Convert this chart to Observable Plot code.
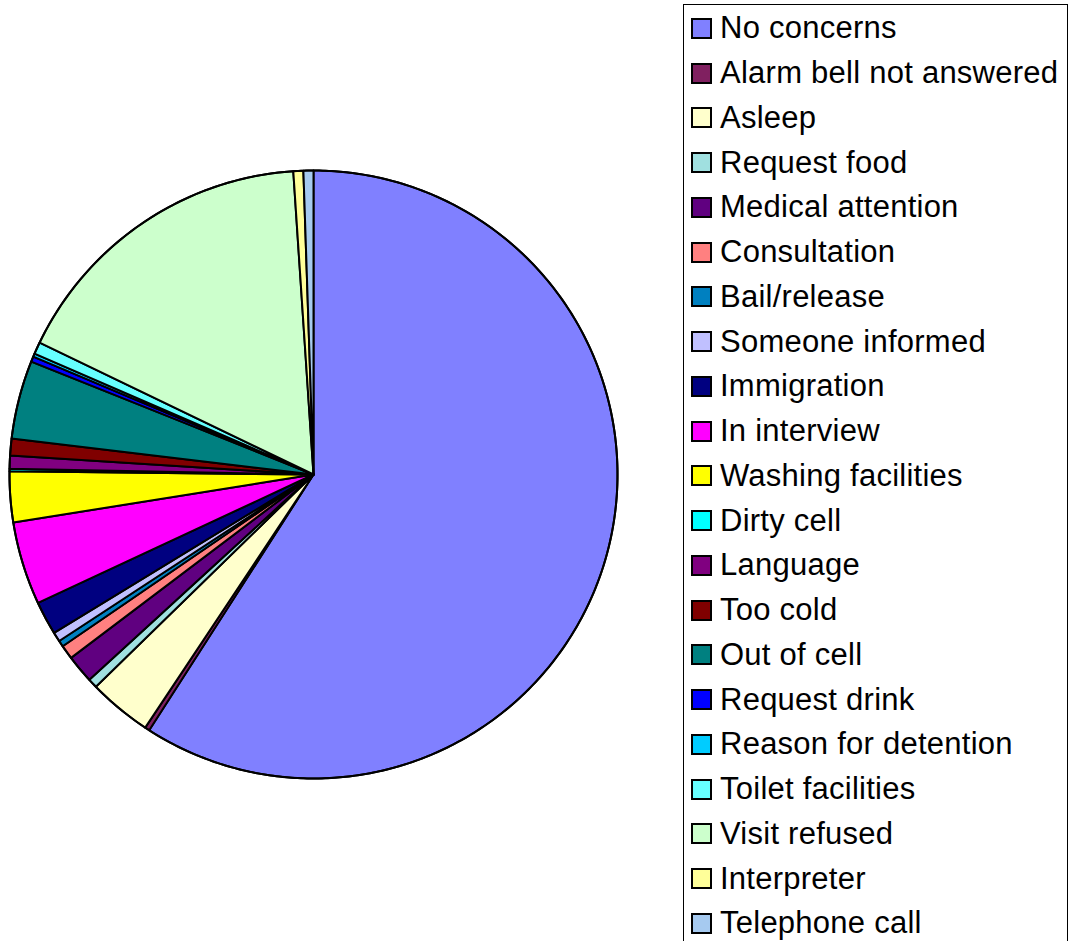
<!DOCTYPE html>
<html>
<head>
<meta charset="utf-8">
<script src="https://cdn.jsdelivr.net/npm/d3@7"></script>
<script src="https://cdn.jsdelivr.net/npm/@observablehq/plot@0.6"></script>
<style>
  html, body { margin: 0; padding: 0; background: #fff; overflow: hidden; }
  #wrap { position: relative; width: 1068px; height: 941px; }
  #pie { position: absolute; left: 0; top: 0; }
  #legend { position: absolute; left: 683px; top: 4px; width: 385px; height: 960px;
            border: 1px solid #000; box-sizing: border-box; font-family: "Liberation Sans", Arial, sans-serif; }
  .item { position: absolute; left: 7px; height: 30px; display: flex; align-items: center; white-space: nowrap; }
  .sw { width: 17px; height: 17px; border: 2px solid #000; margin-right: 8px; flex: none; }
  .lab { font-size: 31px; color: #000; line-height: 30px; letter-spacing: 0.25px; }
</style>
</head>
<body>
<div id="wrap"><div id="pie"></div><div id="legend"></div></div>
<script>
const categories = ["No concerns","Alarm bell not answered","Asleep","Request food","Medical attention",
  "Consultation","Bail/release","Someone informed","Immigration","In interview","Washing facilities",
  "Dirty cell","Language","Too cold","Out of cell","Request drink","Reason for detention",
  "Toilet facilities","Visit refused","Interpreter","Telephone call"];
const values = [59.1,0.25,3.36,0.5,1.5,0.75,0.33,0.5,1.78,4.42,2.69,0.14,0.69,0.89,4.17,0.28,0.17,0.64,16.8,0.53,0.53];
const colors = ["#8080FF","#802060","#FFFFCC","#A0E0E0","#600080","#FF8080","#0080C0","#C0C0FF","#000080",
  "#FF00FF","#FFFF00","#00FFFF","#800080","#800000","#008080","#0000FF","#00CCFF","#66FFFF","#CCFFCC",
  "#FFFF99","#A6CAF0"];

const data = categories.map((c, i) => ({name: c, value: values[i]}));
const arcs = d3.pie().sort(null).value(d => d.value)(data);

function slicePolygon(a) {
  const pts = [[0, 0]];
  const n = Math.max(2, Math.ceil((a.endAngle - a.startAngle) / 0.01));
  for (let k = 0; k <= n; k++) {
    const t = a.startAngle + (a.endAngle - a.startAngle) * k / n;
    pts.push([Math.sin(t), -Math.cos(t)]);
  }
  pts.push([0, 0]);
  return {type: "Feature", properties: {name: a.data.name}, geometry: {type: "Polygon", coordinates: [pts]}};
}
const features = arcs.map(slicePolygon);

const circle = [];
for (let k = 0; k <= 360; k++) { const t = k * Math.PI / 180; circle.push([Math.sin(t), -Math.cos(t)]); }
const domain = {type: "Feature", geometry: {type: "Polygon", coordinates: [circle]}};

const chart = Plot.plot({
  width: 626,
  height: 941,
  marginTop: 7, marginBottom: 0, marginLeft: 0, marginRight: 0,
  projection: {type: "identity", domain, inset: 9},
  color: {domain: categories, range: colors},
  marks: [
    Plot.geo(features, {fill: d => d.properties.name, stroke: "#000", strokeWidth: 2, strokeLinejoin: "round"}),
    Plot.geo(domain, {fill: "none", stroke: "#000", strokeWidth: 2})
  ]
});
document.getElementById("pie").appendChild(chart);

const legend = document.getElementById("legend");
categories.forEach((c, i) => {
  const it = document.createElement("div");
  it.className = "item";
  it.style.top = (28.4 + i * 44.75 - 15 - 5) + "px";
  const sw = document.createElement("div");
  sw.className = "sw";
  sw.style.background = colors[i];
  const lab = document.createElement("span");
  lab.className = "lab";
  lab.textContent = c;
  it.appendChild(sw); it.appendChild(lab);
  legend.appendChild(it);
});
</script>
</body>
</html>
